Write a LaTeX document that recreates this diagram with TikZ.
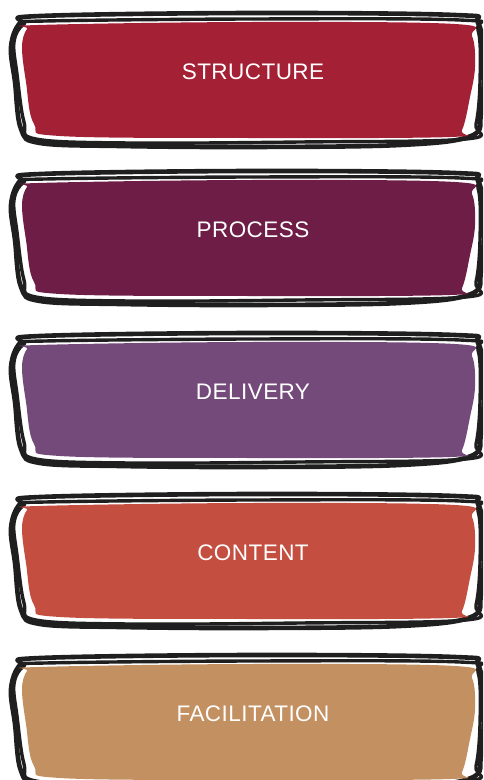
\documentclass[tikz,border=0pt]{standalone}
\usepackage{fontspec}
\newfontfamily\boxfont[LetterSpace=2]{Liberation Sans}
\definecolor{structred}{HTML}{A32035}
\definecolor{processplum}{HTML}{6E1E46}
\definecolor{deliverypurple}{HTML}{744A7A}
\definecolor{contentcoral}{HTML}{C44F40}
\definecolor{facilitationtan}{HTML}{C39061}
\tikzset{
  scribble/.style={draw=black!88, line width=3.4pt, line join=round},
  boxlabel/.style={text=white, font=\boxfont\fontsize{22.5}{27}\selectfont, inner sep=0pt}
}

\begin{document}
\begin{tikzpicture}[x=1pt, y=-1pt]
\useasboundingbox (0,0) rectangle (483,780);
\clip (0,0) rectangle (483,780);
\foreach \ytop/\col/\lbl/\nm in {12/structred/STRUCTURE/structure,
    170/processplum/PROCESS/process,
    332/deliverypurple/DELIVERY/delivery,
    493/contentcoral/CONTENT/content,
    654/facilitationtan/FACILITATION/facilitation}{
  \begin{scope}[shift={(0,\ytop)}]
    % Draw outer scribble strokes
    \draw[scribble, line width=4.6pt] plot[smooth cycle, tension=0.6] coordinates {
      (40,4) (250,1) (455,3) (478,11) (484,50) (481,100) (471,124) (400,133)
      (250,135) (120,134) (40,131) (21,117) (15,70) (11,35) (20,11)};
    \draw[scribble] plot[smooth cycle, tension=0.6] coordinates {
      (45,9) (250,7) (460,8) (478,18) (480,70) (476,112) (466,127) (300,130)
      (130,131) (36,127) (24,110) (17,62) (14,30) (24,12)};
    % Fill coloured patch
    \fill[\col] plot[smooth cycle, tension=0.6] coordinates {
      (38,13) (250,10) (455,12) (472,24) (475,55) (470,85) (462,118) (450,125)
      (250,126) (60,124) (34,112) (26,70) (22,35) (27,17)};
    % Label
    \node[boxlabel] (\nm) at (253,60) {\lbl};
  \end{scope}
}
\end{tikzpicture}
\end{document}
